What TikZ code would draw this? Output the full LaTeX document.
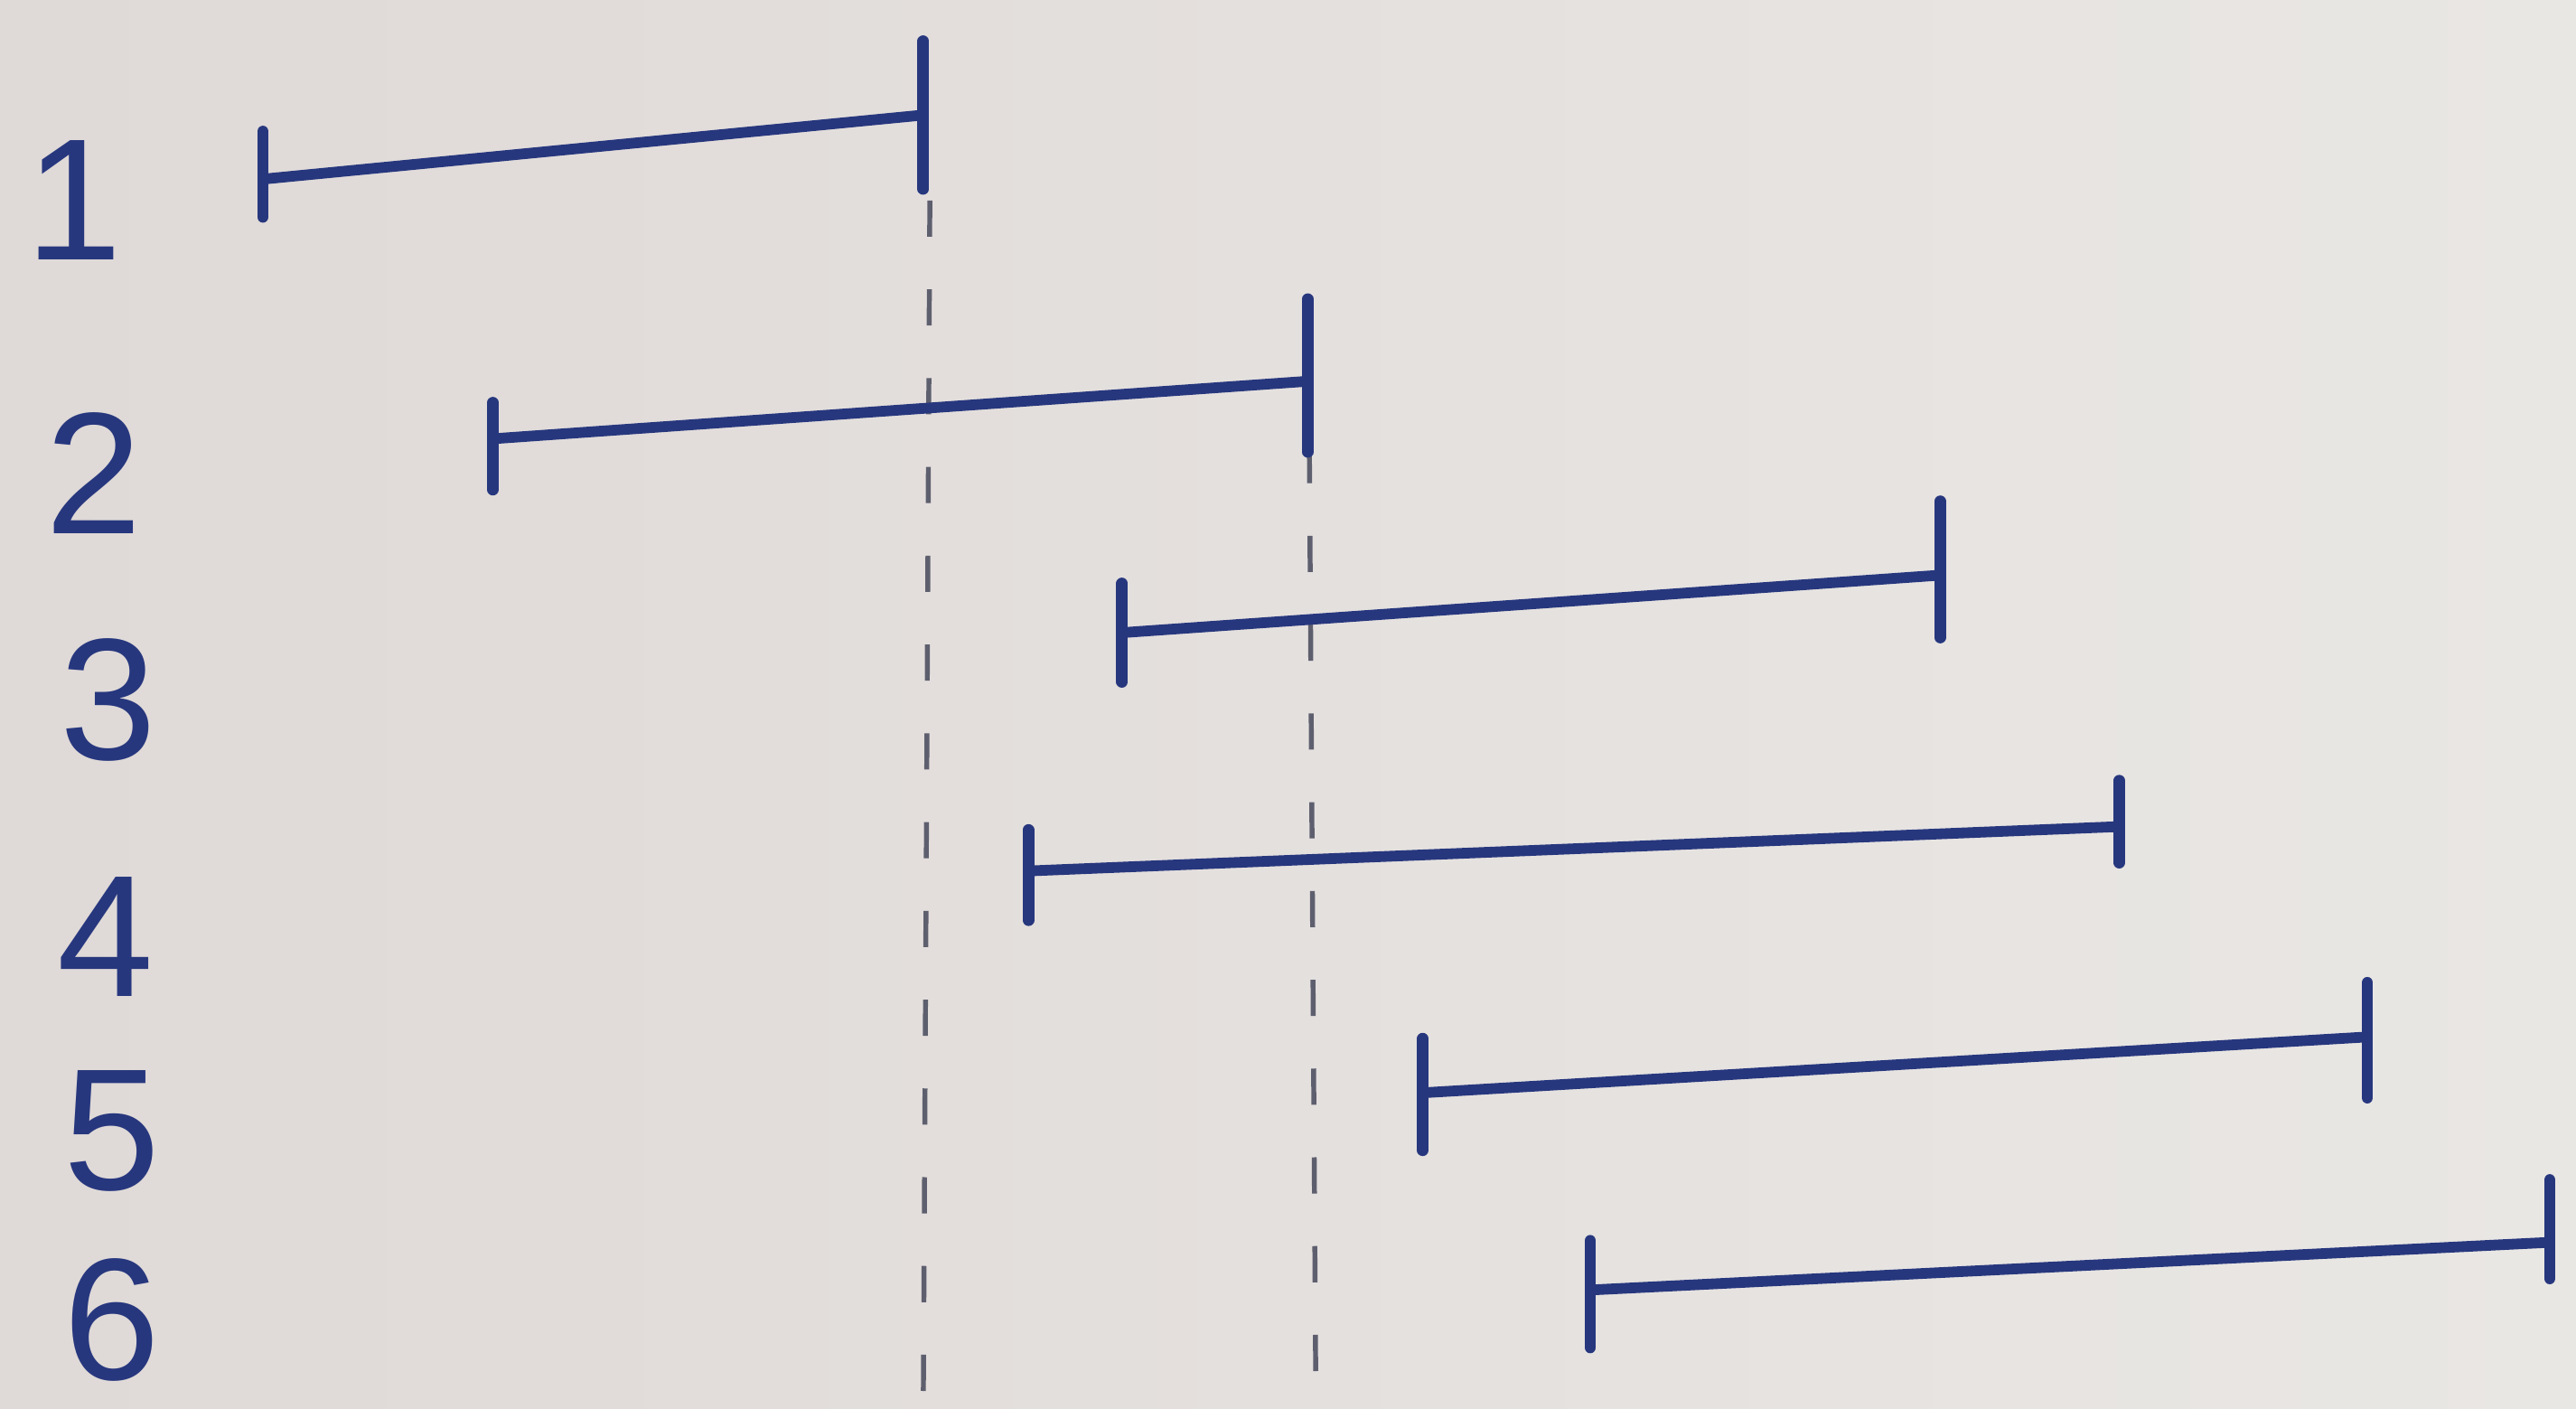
\documentclass[tikz,border=0pt]{standalone}
\usepackage{fontspec}
\setsansfont{Liberation Sans}
\usepackage{tikz}
\definecolor{paper}{HTML}{DFD9D7}
\definecolor{paperlight}{HTML}{E9E7E4}
\definecolor{ink}{HTML}{27377E}
\definecolor{pencil}{HTML}{5E5F6E}

\begin{document}
\begin{tikzpicture}[
  x=0.01cm, y=-0.01cm,
  interval/.style={draw=ink, line width=0.065cm, line cap=round},
  tick/.style={draw=ink, line width=0.07cm, line cap=round},
  guide/.style={draw=pencil, line width=0.03cm, dash pattern=on 0.22cm off 0.32cm},
  num/.style={text=ink, font=\sffamily\fontsize{30}{34}\selectfont, inner sep=0pt}
]
% paper
\shade[left color=paper, right color=paperlight] (0,0) rectangle (1568,857);
\useasboundingbox (0,0) rectangle (1568,857);

% guide lines
\coordinate (g1t) at (566,122);
\coordinate (g1b) at (562,857);
\coordinate (g2t) at (797,272);
\coordinate (g2b) at (801,857);
\draw[guide] (g1t) -- (g1b);
\draw[guide] (g2t) -- (g2b);

% interval end points
\coordinate (s1) at (160,109);
\coordinate (e1) at (562,70);
\coordinate (s2) at (300,267);
\coordinate (e2) at (796,232);
\coordinate (s3) at (683,385);
\coordinate (e3) at (1181,350);
\coordinate (s4) at (626,530);
\coordinate (e4) at (1290,503);
\coordinate (s5) at (866,665);
\coordinate (e5) at (1441,631);
\coordinate (s6) at (968,785);
\coordinate (e6) at (1552,756);

% intervals
\draw[interval] (s1) -- (e1);
\draw[interval] (s2) -- (e2);
\draw[interval] (s3) -- (e3);
\draw[interval] (s4) -- (e4);
\draw[interval] (s5) -- (e5);
\draw[interval] (s6) -- (e6);

% end bars
\foreach \x/\a/\b in {160/80/132, 562/25/115, 300/245/298, 796/182/275,
    683/355/415, 1181/305/388, 626/505/560, 1290/475/525,
    866/632/700, 1441/598/668, 968/755/820, 1552/718/778}
  \draw[tick] (\x,\a) -- (\x,\b);

% labels
\node[num] (n1) at (45,122) {1};
\node[num] (n2) at (57,288) {2};
\node[num] (n3) at (66,426) {3};
\node[num] (n4) at (64,570) {4};
\node[num] (n5) at (68,688) {5};
\node[num] (n6) at (68,803) {6};
\end{tikzpicture}
\end{document}
